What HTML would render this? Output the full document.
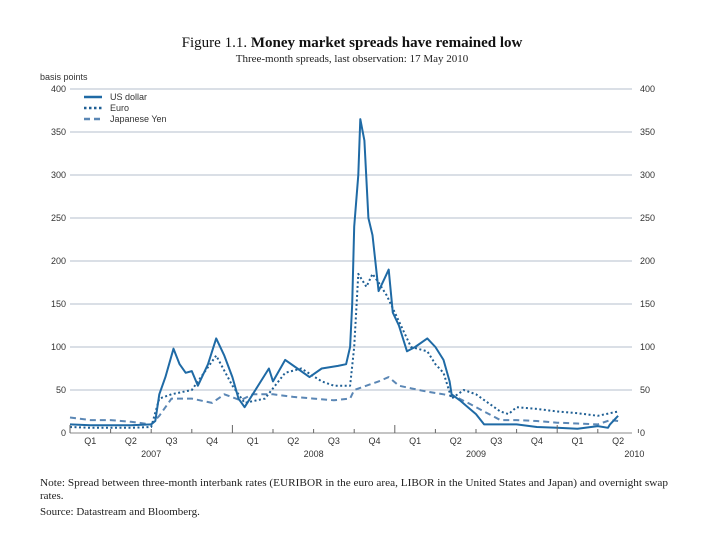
<!DOCTYPE html>
<html><head><meta charset="utf-8"><style>
body{margin:0;background:#fff;width:720px;height:540px;overflow:hidden;font-family:"Liberation Sans",sans-serif}
svg{position:absolute;left:0;top:0}
.ax{font-size:9px;fill:#333}
</style></head><body>
<svg width="720" height="540">
<text x="352" y="47" text-anchor="middle" font-family="Liberation Serif" font-size="15" fill="#111">Figure 1.1.  <tspan font-weight="bold">Money market spreads have remained low</tspan></text>
<text x="352" y="62" text-anchor="middle" font-family="Liberation Serif" font-size="11" fill="#222">Three-month spreads, last observation: 17 May 2010</text>
<text x="40" y="80" class="ax">basis points</text>
<g id="grid"></g><g id="series"></g><g id="xax"></g>
<g>
<line x1="84" y1="97" x2="102" y2="97" stroke="#1f6aa5" stroke-width="2.5"/><text x="110" y="100" class="ax" font-size="8">US dollar</text>
<line x1="84" y1="108" x2="102" y2="108" stroke="#1f5f94" stroke-width="2.5" stroke-dasharray="2.5,2.5"/><text x="110" y="111" class="ax" font-size="8">Euro</text>
<line x1="84" y1="119" x2="102" y2="119" stroke="#5b87b5" stroke-width="2.5" stroke-dasharray="6,4"/><text x="110" y="122" class="ax" font-size="8">Japanese Yen</text>
</g>
<text x="40" y="486" font-family="Liberation Serif" font-size="11" fill="#222" textLength="628" lengthAdjust="spacingAndGlyphs">Note:  Spread between three-month interbank rates (EURIBOR in the euro area, LIBOR in the United States and Japan) and overnight swap</text>
<text x="40" y="499" font-family="Liberation Serif" font-size="11" fill="#222">rates.</text>
<text x="40" y="515" font-family="Liberation Serif" font-size="11" fill="#222">Source:  Datastream and Bloomberg.</text>
</svg>
<script>
const yTicks=[0,50,100,150,200,250,300,350,400];
const quarterLabels=["Q1","Q2","Q3","Q4","Q1","Q2","Q3","Q4","Q1","Q2","Q3","Q4","Q1","Q2"];
const yearLabels=["2007","2008","2009","2010"];
const usdT=[0,0.5,1,1.5,2.0,2.1,2.2,2.35,2.55,2.7,2.85,3.0,3.15,3.4,3.6,3.8,4.0,4.15,4.3,4.5,4.7,4.9,5.0,5.3,5.6,5.9,6.2,6.6,6.8,6.9,6.95,7.0,7.1,7.15,7.25,7.35,7.45,7.6,7.75,7.85,7.95,8.1,8.3,8.5,8.8,9.0,9.2,9.35,9.4,9.6,9.8,10.0,10.2,10.5,11.0,11.5,12.0,12.5,13.0,13.25,13.3,13.5];
const usdV=[10,9,9,9,10,14,45,65,98,80,70,72,55,80,110,90,65,40,30,45,60,75,60,85,75,65,75,78,80,100,150,240,300,365,340,250,230,165,180,190,140,125,95,100,110,100,85,60,45,38,30,22,10,10,10,7,6,5,8,6,10,20];
const eurT=[0,0.5,1,1.5,2.0,2.2,2.5,3.0,3.6,4.0,4.3,4.8,5.3,5.7,6.2,6.5,6.9,7.0,7.1,7.3,7.45,7.6,7.8,8.1,8.4,8.8,9.0,9.2,9.4,9.7,10.0,10.3,10.6,10.8,11.0,11.5,12.0,12.5,13.0,13.5];
const eurV=[7,6,6,6,7,40,45,50,90,55,35,40,70,75,60,55,55,100,185,170,185,175,160,130,100,95,80,70,40,50,45,35,25,22,30,28,25,23,20,25];
const jpyT=[0,0.5,1,1.5,2.0,2.2,2.5,3.0,3.5,3.8,4.2,4.5,5.0,5.5,6.0,6.5,6.9,7.0,7.3,7.6,7.85,8.1,8.4,8.8,9.2,9.5,9.8,10.2,10.6,11.0,11.5,12.0,12.5,13.0,13.3,13.5];
const jpyV=[18,15,15,13,10,20,40,40,35,45,38,45,45,42,40,38,40,50,55,60,65,55,52,48,45,42,35,25,15,15,14,12,11,10,15,14];
const X0=70,QW=40.6,Y0=433,SC=0.86;
const x=t=>X0+t*QW, y=v=>Y0-v*SC;
const NS="http://www.w3.org/2000/svg";
function mk(tag,attrs,parent){const e=document.createElementNS(NS,tag);for(const k in attrs)e.setAttribute(k,attrs[k]);document.getElementById(parent).appendChild(e);return e;}
yTicks.forEach(v=>{
 const l=mk('line',{x1:x(0),x2:632,y1:y(v),y2:y(v),stroke:v===0?'#888':'#b4bfcc','stroke-width':1},'grid');
 
 
 const a=mk('text',{x:66,y:y(v)+3,'text-anchor':'end',class:'ax'},'grid');a.textContent=v;
 
 
 const b=mk('text',{x:640,y:y(v)+3,class:'ax'},'grid');b.textContent=v;
 
 
});
for(let i=0;i<=quarterLabels.length;i++){
 const big=i%4===0;
 const t=mk('line',{x1:x(i),x2:x(i),y1:Y0-(big?8:4),y2:Y0,stroke:'#666'},'xax');
 
 
}
quarterLabels.forEach((q,i)=>{const e=mk('text',{x:x(i+0.5),y:444,'text-anchor':'middle',class:'ax'},'xax');e.textContent=q;
 
 });
yearLabels.forEach((yr,i)=>{const e=mk('text',{x:i<3?x(i*4+2):x(13.9),y:457,'text-anchor':'middle',class:'ax'},'xax');e.textContent=yr;
 
 });
function line(T,V,color,dash,name){
 const d=T.map((t,i)=>(i?'L':'M')+x(t).toFixed(1)+','+y(V[i]).toFixed(1)).join('');
 const p=mk('path',{d:d,fill:'none',stroke:color,'stroke-width':2,'stroke-dasharray':dash,'stroke-linejoin':'round'},'series');
 
 
}
line(jpyT,jpyV,'#5b87b5','6,4','series-yen');
line(eurT,eurV,'#1f5f94','2,2.5','series-euro');
line(usdT,usdV,'#1f6aa5','none','series-usd');
</script>
</body></html>
